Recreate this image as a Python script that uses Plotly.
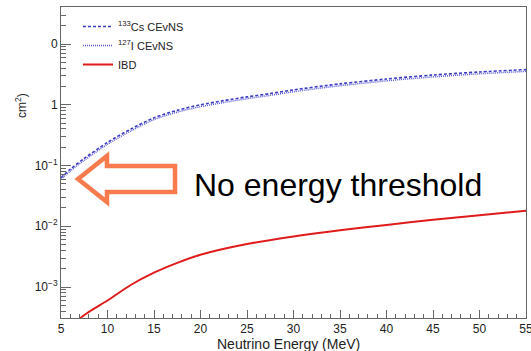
import plotly.graph_objects as go

# ---- data ----
energy_cevns = [5, 6, 7.5, 10, 12.5, 15, 17.5, 20, 22.5, 25, 27.5, 30, 35, 40, 45, 50, 55]
cs_xsec = [0.063, 0.087, 0.131, 0.24, 0.398, 0.61, 0.813, 1.0, 1.17, 1.35, 1.53, 1.76,
           2.21, 2.66, 3.09, 3.47, 3.8]
i_xsec = [0.059, 0.081, 0.122, 0.224, 0.37, 0.57, 0.757, 0.93, 1.09, 1.26, 1.43, 1.64,
          2.06, 2.48, 2.88, 3.24, 3.55]
energy_ibd = [6.5, 7, 8, 10, 12.5, 15, 17.5, 20, 25, 30, 35, 40, 45, 50, 55]
ibd_xsec = [2.3e-4, 3.0e-4, 3.9e-4, 6.0e-4, 1.08e-3, 1.72e-3, 2.5e-3, 3.4e-3, 5.1e-3,
            6.8e-3, 8.6e-3, 1.05e-2, 1.28e-2, 1.52e-2, 1.8e-2]
ytick_vals = [1e-3, 1e-2, 1e-1, 1, 10]
ytick_text = ["10<sup>−3</sup>", "10<sup>−2</sup>", "10<sup>−1</sup>", "1", "0"]
series_names = ["<sup>133</sup>Cs CEvNS", "<sup>127</sup>I CEvNS", "IBD"]

# ---- layout geometry (pixels) ----
W, H = 531, 351
L, R, T, B = 61, 5, 7, 33
pw, ph = W - L - R, H - T - B


def px(x):
    return (x - L) / pw


def py(y):
    return (H - B - y) / ph


fig = go.Figure()
fig.add_trace(go.Scatter(x=energy_cevns, y=cs_xsec, mode="lines", name=series_names[0],
                         line=dict(color="#3b3bc4", width=1.6, dash="3px,2px",
                                   shape="spline", smoothing=0.8)))
fig.add_trace(go.Scatter(x=energy_cevns, y=i_xsec, mode="lines", name=series_names[1],
                         line=dict(color="#5a5ad8", width=1.5, dash="1px,1px",
                                   shape="spline", smoothing=0.8)))
fig.add_trace(go.Scatter(x=energy_ibd, y=ibd_xsec, mode="lines", name=series_names[2],
                         line=dict(color="#e01b1b", width=2, shape="spline", smoothing=0.8)))

axis_col = "#666666"
fig.update_xaxes(range=[5, 55], tickvals=list(range(5, 60, 5)), ticks="inside", ticklen=8,
                 tickcolor=axis_col, showline=True, linecolor=axis_col, mirror=True,
                 showgrid=False, zeroline=False, automargin=False,
                 ticklabeloverflow="allow",
                 tickfont=dict(family="Liberation Sans", size=12, color="#222"),
                 minor=dict(ticks="inside", dtick=1, ticklen=4, tickcolor=axis_col, showgrid=False))
fig.update_yaxes(type="log", range=[-3.51, 1.61], tickvals=ytick_vals, ticktext=ytick_text,
                 ticks="inside", ticklen=10, tickcolor=axis_col, showline=True,
                 linecolor=axis_col, mirror=True, showgrid=False, zeroline=False,
                 automargin=False, ticklabeloverflow="allow",
                 tickfont=dict(family="Liberation Sans", size=12, color="#222"),
                 minor=dict(ticks="inside", dtick="D1", ticklen=5, tickcolor=axis_col,
                            showgrid=False))

# hollow arrow pointing left
arrow_pts = [(78, 179), (107, 156), (107, 166), (175, 166), (175, 192), (107, 192), (107, 202)]
path = "M " + " L ".join(f"{px(a):.4f},{py(b):.4f}" for a, b in arrow_pts) + " Z"
fig.add_shape(type="path", xref="paper", yref="paper", path=path,
              line=dict(color="#f77b4d", width=4.5), fillcolor="white", layer="above")

fig.add_annotation(xref="paper", yref="paper", x=px(192), y=py(185), xanchor="left",
                   yanchor="middle", text="No energy threshold", showarrow=False,
                   font=dict(family="Liberation Sans", size=32, color="black"))
fig.add_annotation(xref="paper", yref="paper", x=px(288), y=py(344), xanchor="center",
                   yanchor="middle", text="Neutrino Energy (MeV)", showarrow=False,
                   font=dict(family="Liberation Sans", size=14, color="#222"))
fig.add_annotation(xref="paper", yref="paper", x=px(21), y=py(106), xanchor="center",
                   yanchor="middle", text="cm<sup>2</sup>)", textangle=-90, showarrow=False,
                   font=dict(family="Liberation Sans", size=12, color="#222"))

fig.update_layout(
    width=W, height=H, margin=dict(l=L, r=R, t=T, b=B),
    paper_bgcolor="white", plot_bgcolor="white", showlegend=True,
    legend=dict(x=px(78), y=py(12), xanchor="left", yanchor="top",
                bgcolor="rgba(255,255,255,0)", tracegroupgap=0,
                font=dict(family="Liberation Sans", size=11, color="#222")),
)

fig.write_html("out.html")
